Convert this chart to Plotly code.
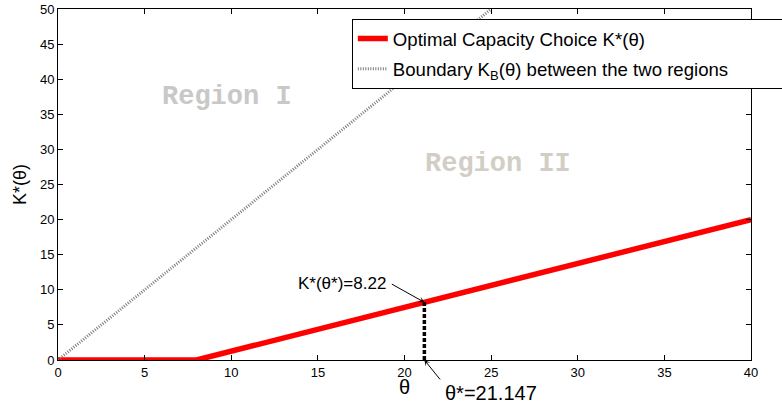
import plotly.graph_objects as go

# ---- data ----
theta_opt = [0, 8, 40]          # optimal capacity choice K*(theta)
k_opt = [0, 0, 20]
theta_bnd = [0, 25]             # boundary K_B(theta)
k_bnd = [0, 50]
theta_star = 21.147
k_star = 8.22
x_ticks = [0, 5, 10, 15, 20, 25, 30, 35, 40]
y_ticks = [0, 5, 10, 15, 20, 25, 30, 35, 40, 45, 50]

FONT = "Liberation Sans, Arial, sans-serif"
MONO = "Liberation Mono, Courier New, monospace"

fig = go.Figure()
fig.add_trace(go.Scatter(
    x=theta_opt, y=k_opt, mode="lines",
    line=dict(color="#ff0000", width=5.5),
    name="Optimal Capacity Choice K*(θ)", legendgroup="a"))
fig.add_trace(go.Scatter(
    x=theta_bnd, y=k_bnd, mode="lines",
    line=dict(color="#7a7a7a", width=3, dash="1px,1.5px"),
    name="Boundary K<sub>B</sub>(θ) between the two regions" + "&nbsp;" * 12,
    legendgroup="b"))
fig.add_trace(go.Scatter(
    x=[theta_star, theta_star], y=[0, k_star], mode="lines",
    line=dict(color="black", width=3.5, dash="4px,2px"),
    showlegend=False))

# arrows (no text) and their labels
fig.add_annotation(x=theta_star, y=k_star, xref="x", yref="y", text="",
                   showarrow=True, ax=-34, ay=-19,
                   arrowhead=3, arrowsize=1, arrowwidth=1, arrowcolor="black")
fig.add_annotation(x=19.05, y=10.86, xref="x", yref="y",
                   text="K*(θ*)=8.22", showarrow=False,
                   xanchor="right", yanchor="middle",
                   font=dict(family=FONT, size=17, color="black"))
fig.add_annotation(x=theta_star, y=0, xref="x", yref="y", text="",
                   showarrow=True, ax=17, ay=21,
                   arrowhead=3, arrowsize=1, arrowwidth=1, arrowcolor="black")
fig.add_annotation(x=22.22, y=-0.094, xref="x", yref="paper",
                   text="θ*=21.147", showarrow=False,
                   xanchor="left", yanchor="middle",
                   font=dict(family=FONT, size=20, color="black"))
fig.add_annotation(x=20, y=-0.077, xref="x", yref="paper",
                   text="θ", showarrow=False,
                   xanchor="center", yanchor="middle",
                   font=dict(family=FONT, size=20, color="black"))

fig.add_annotation(x=9.75, y=37.4, xref="x", yref="y", text="<b>Region I</b>",
                   showarrow=False, font=dict(family=MONO, size=27, color="#c8c8c8"))
fig.add_annotation(x=25.4, y=27.9, xref="x", yref="y", text="<b>Region II</b>",
                   showarrow=False, font=dict(family=MONO, size=27, color="#d2cec6"))

axis_common = dict(showgrid=False, zeroline=False, showline=True, linecolor="black",
                   linewidth=1, mirror="allticks", ticks="inside", ticklen=5,
                   tickcolor="black", tickfont=dict(family=FONT, size=13, color="black"))

fig.update_layout(
    width=782, height=409,
    margin=dict(l=58, r=31, t=9, b=49, autoexpand=False),
    paper_bgcolor="white", plot_bgcolor="white",
    xaxis=dict(range=[0, 40], tickvals=x_ticks, **axis_common),
    yaxis=dict(range=[0, 50], tickvals=y_ticks,
               title=dict(text="K*(θ)", font=dict(family=FONT, size=18, color="black"), standoff=8),
               **axis_common),
    legend=dict(x=0.424, y=0.9715, xanchor="left", yanchor="top",
                bgcolor="white", bordercolor="black", borderwidth=1,
                font=dict(family=FONT, size=18.6, color="black"),
                traceorder="grouped", tracegroupgap=3),
    showlegend=True,
)

fig.write_html("out.html")
